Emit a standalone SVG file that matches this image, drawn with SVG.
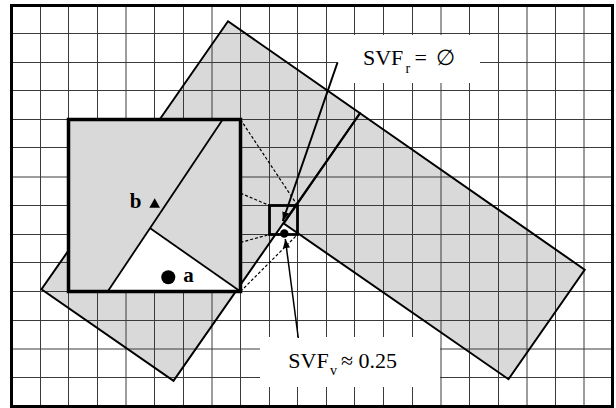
<svg xmlns="http://www.w3.org/2000/svg" width="616" height="408" viewBox="0 0 616 408">
<defs>
<style>
.grid line{stroke:#3a3a3a;stroke-width:1}
.bldfill{fill:#d9d9d9;stroke:none}
.outline{fill:none;stroke:#000;stroke-width:2;stroke-linejoin:miter}
.dash{fill:none;stroke:#000;stroke-width:1.2;stroke-dasharray:3 2}
.arrow{fill:none;stroke:#000;marker-end:url(#ah)}
.lbl{font-family:"Liberation Serif","DejaVu Serif",serif;fill:#000}
.bold{font-weight:bold}
</style>
<marker id="ah" markerUnits="userSpaceOnUse" markerWidth="10" markerHeight="8" refX="9" refY="4" orient="auto">
<path d="M0,0.5 L9,4 L0,7.5 z" fill="#000"/>
</marker>
</defs>
<rect x="0" y="0" width="616" height="408" fill="#fff"/>

<g id="buildings-fill">
<polygon class="bldfill" points="228,21.3 584.7,269.7 508.5,379.2 283.8,223.5 173.5,380.8 41.5,289.3"/>
</g>

<g id="grid" class="grid">
<line x1="40.5" y1="5" x2="40.5" y2="406"/>
<line x1="68.5" y1="5" x2="68.5" y2="406"/>
<line x1="97.5" y1="5" x2="97.5" y2="406"/>
<line x1="126" y1="5" x2="126" y2="406"/>
<line x1="154.5" y1="5" x2="154.5" y2="406"/>
<line x1="183.5" y1="5" x2="183.5" y2="406"/>
<line x1="212" y1="5" x2="212" y2="406"/>
<line x1="240.5" y1="5" x2="240.5" y2="406"/>
<line x1="269.5" y1="5" x2="269.5" y2="406"/>
<line x1="297.5" y1="5" x2="297.5" y2="406"/>
<line x1="326.5" y1="5" x2="326.5" y2="406"/>
<line x1="354.5" y1="5" x2="354.5" y2="406"/>
<line x1="383.5" y1="5" x2="383.5" y2="406"/>
<line x1="412.5" y1="5" x2="412.5" y2="406"/>
<line x1="441" y1="5" x2="441" y2="406"/>
<line x1="469.5" y1="5" x2="469.5" y2="406"/>
<line x1="498.5" y1="5" x2="498.5" y2="406"/>
<line x1="527" y1="5" x2="527" y2="406"/>
<line x1="555.5" y1="5" x2="555.5" y2="406"/>
<line x1="584" y1="5" x2="584" y2="406"/>
<line x1="11" y1="33.5" x2="613" y2="33.5"/>
<line x1="11" y1="62.5" x2="613" y2="62.5"/>
<line x1="11" y1="90.5" x2="613" y2="90.5"/>
<line x1="11" y1="119.5" x2="613" y2="119.5"/>
<line x1="11" y1="147.5" x2="613" y2="147.5"/>
<line x1="11" y1="177" x2="613" y2="177"/>
<line x1="11" y1="205.5" x2="613" y2="205.5"/>
<line x1="11" y1="234.5" x2="613" y2="234.5"/>
<line x1="11" y1="262.5" x2="613" y2="262.5"/>
<line x1="11" y1="291.5" x2="613" y2="291.5"/>
<line x1="11" y1="320.5" x2="613" y2="320.5"/>
<line x1="11" y1="349" x2="613" y2="349"/>
<line x1="11" y1="377.5" x2="613" y2="377.5"/>
</g>

<g id="label-boxes">
<rect x="338" y="35" width="142" height="48" fill="#fff"/>
<rect x="260" y="337" width="180" height="50" fill="#fff"/>
</g>

<g id="building-left">
<polygon class="outline" points="228,21.3 360,113.2 173.5,380.8 41.5,289.3"/>
</g>
<g id="building-right">
<polygon class="outline" points="360,113.2 584.7,269.7 508.5,379.2 283.8,223.5"/>
</g>

<g id="frame">
<rect x="11.5" y="5.5" width="601" height="401" fill="none" stroke="#000" stroke-width="3"/>
</g>

<g id="inset">
<rect x="68.5" y="119.5" width="172" height="172" fill="#d9d9d9"/>
<polygon points="107.7,291.5 150.2,228.3 240.5,291.5" fill="#fff"/>
<line x1="222.7" y1="119.5" x2="107.7" y2="291.5" stroke="#000" stroke-width="1.8"/>
<line x1="150.2" y1="228.3" x2="240.5" y2="291.5" stroke="#000" stroke-width="1.8"/>
<rect x="68.5" y="119.5" width="172" height="172" fill="none" stroke="#000" stroke-width="3.5"/>
<text class="lbl bold" x="129.8" y="208.3" font-size="21">b</text>
<polygon points="149.3,207.7 160,207.7 154.7,198.3" fill="#000"/>
<circle cx="168.3" cy="277.3" r="7" fill="#000"/>
<text class="lbl bold" x="183.3" y="282.3" font-size="21">a</text>
</g>

<g id="connectors">
<line class="dash" x1="240.5" y1="119.5" x2="297.5" y2="205.5"/>
<line class="dash" x1="240.5" y1="193.2" x2="269.5" y2="205.5"/>
<line class="dash" x1="240.5" y1="242.4" x2="269.5" y2="234.5"/>
<line class="dash" x1="240.5" y1="291.5" x2="297.5" y2="234.5"/>
<line class="arrow" x1="337.5" y1="62.5" x2="282.8" y2="221" stroke-width="2"/>
<line class="arrow" x1="298.3" y1="338" x2="285.3" y2="239" stroke-width="1.5"/>
</g>

<g id="focus-box">
<rect x="269.5" y="205.5" width="28" height="29" fill="none" stroke="#000" stroke-width="2.8"/>
<circle cx="284.3" cy="233.5" r="4.2" fill="#000"/>
</g>

<g id="label-svfr">
<text class="lbl" y="65" font-size="22"><tspan x="363">SVF</tspan><tspan x="405.5" y="72.5" font-size="14">r</tspan><tspan x="414.5" y="65">=</tspan><tspan x="435.5" y="65">∅</tspan></text>
</g>
<g id="label-svfv">
<text class="lbl" y="368.3" font-size="22"><tspan x="288.3">SVF</tspan><tspan x="330" y="375" font-size="14">v</tspan><tspan x="341" y="368.3">≈</tspan><tspan x="358.5" y="368.3">0.25</tspan></text>
</g>
</svg>
